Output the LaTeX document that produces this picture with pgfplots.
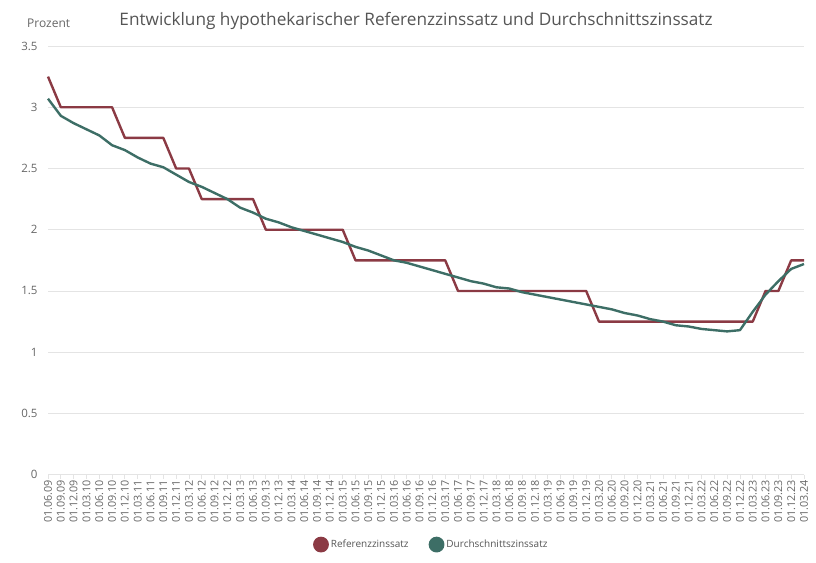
\documentclass[border=0pt]{standalone}
\usepackage{fontspec}
\setmainfont{Open Sans}
\usepackage{pgfplots}
\pgfplotsset{compat=1.18}
\definecolor{refred}{RGB}{139,58,68}
\definecolor{avggreen}{RGB}{61,110,102}
\definecolor{txt}{RGB}{102,102,102}
\definecolor{ttl}{RGB}{85,85,85}
\definecolor{gridc}{RGB}{228,228,228}
\pgfplotstableread{
i ref avg
0 3.25 3.07
1 3.00 2.93
2 3.00 2.87
3 3.00 2.82
4 3.00 2.77
5 3.00 2.69
6 2.75 2.65
7 2.75 2.59
8 2.75 2.54
9 2.75 2.51
10 2.50 2.45
11 2.50 2.39
12 2.25 2.35
13 2.25 2.30
14 2.25 2.25
15 2.25 2.18
16 2.25 2.14
17 2.00 2.09
18 2.00 2.06
19 2.00 2.02
20 2.00 1.99
21 2.00 1.96
22 2.00 1.93
23 2.00 1.90
24 1.75 1.86
25 1.75 1.83
26 1.75 1.79
27 1.75 1.75
28 1.75 1.73
29 1.75 1.70
30 1.75 1.67
31 1.75 1.64
32 1.50 1.61
33 1.50 1.58
34 1.50 1.56
35 1.50 1.53
36 1.50 1.52
37 1.50 1.49
38 1.50 1.47
39 1.50 1.45
40 1.50 1.43
41 1.50 1.41
42 1.50 1.39
43 1.25 1.37
44 1.25 1.35
45 1.25 1.32
46 1.25 1.30
47 1.25 1.27
48 1.25 1.25
49 1.25 1.22
50 1.25 1.21
51 1.25 1.19
52 1.25 1.18
53 1.25 1.17
54 1.25 1.18
55 1.25 1.33
56 1.50 1.47
57 1.50 1.58
58 1.75 1.68
59 1.75 1.72
}\datatable
\begin{document}
\begin{tikzpicture}
\useasboundingbox (0pt,0pt) rectangle (816pt,562pt);
\node[anchor=base west, text=txt, font=\fontsize{12}{14}\selectfont, inner sep=0pt] at (27pt,534pt) {Prozent};
\node[anchor=base, text=ttl, font=\fontsize{17.2}{20}\selectfont, inner sep=0pt] at (416pt,536pt) {Entwicklung hypothekarischer Referenzzinssatz und Durchschnittszinssatz};
\begin{axis}[
  at={(48pt,87.3pt)}, anchor=origin,
  scale only axis, width=756pt, height=428.7pt,
  xmin=0, xmax=59, ymin=0, ymax=3.5,
  axis x line*=bottom, axis y line*=left,
  x axis line style={draw=gridc, line width=0.8pt},
  y axis line style={draw=none},
  ymajorgrids, grid style={draw=gridc, line width=0.8pt},
  ytick={0,0.5,1,1.5,2,2.5,3,3.5},
  ytick style={draw=none},
  yticklabel style={text=txt, font=\fontsize{11.5}{13}\selectfont, xshift=-3pt},
  xtick={0,...,59},
  xticklabels={01.06.09,01.09.09,01.12.09,01.03.10,01.06.10,01.09.10,01.12.10,01.03.11,01.06.11,01.09.11,01.12.11,01.03.12,01.06.12,01.09.12,01.12.12,01.03.13,01.06.13,01.09.13,01.12.13,01.03.14,01.06.14,01.09.14,01.12.14,01.03.15,01.06.15,01.09.15,01.12.15,01.03.16,01.06.16,01.09.16,01.12.16,01.03.17,01.06.17,01.09.17,01.12.17,01.03.18,01.06.18,01.09.18,01.12.18,01.03.19,01.06.19,01.09.19,01.12.19,01.03.20,01.06.20,01.09.20,01.12.20,01.03.21,01.06.21,01.09.21,01.12.21,01.03.22,01.06.22,01.09.22,01.12.22,01.03.23,01.06.23,01.09.23,01.12.23,01.03.24},
  xtick style={draw=gridc, line width=0.8pt},
  tick align=outside, major tick length=4pt,
  xticklabel style={rotate=90, anchor=east, text=txt, font=\fontsize{10.8}{12}\selectfont, inner sep=1pt},
  /pgf/number format/assume math mode=true,
  clip=false,
  legend style={at={(0.507,-0.163)}, anchor=center, draw=none, fill=none, legend columns=2,
    font=\fontsize{10}{12}\selectfont, text=ttl,
    /tikz/every even column/.append style={column sep=18pt}},
  legend image code/.code={\fill[#1] (4pt,0pt) circle (6.7pt);},
]
\addplot[refred, line width=2.4pt, line join=round] table[x=i, y=ref] {\datatable};
\addlegendentry{Referenzzinssatz}
\addplot[avggreen, line width=2.4pt, line join=round] table[x=i, y=avg] {\datatable};
\addlegendentry{Durchschnittszinssatz}
\end{axis}
\end{tikzpicture}
\end{document}
